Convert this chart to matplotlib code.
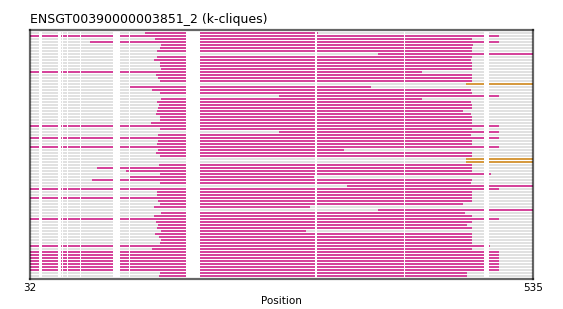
import matplotlib
matplotlib.use("Agg")
import matplotlib.pyplot as plt

# ---- data (positions in alignment coordinates) ----
title = "ENSGT00390000003851_2 (k-cliques)"
x_min, x_max = 32, 535
tick_values = [32, 535]

# magenta (k-clique) segment per row: start, end (None = no segment)
mag_start = [147, 32, 157, 92, 163, 162, 159, 380, 159, 156,
             162, 162, 163, 32, 158, 160, 162, None, 132, 154,
             162, 281, 163, 159, 161, 160, 159, 158, 162, 162,
             153, 32, 162, 281, 160, 32, 160, 159, 32, 160,
             158, 162, None, None, 161, 99, 128, 162, 132, 94,
             162, 349, 32, 159, 159, 32, 160, 162, 156, 380,
             163, 156, 32, 158, 160, 159, 163, 157, 161, 163,
             162, 32, 154, 32, 32, 32, 32, 32, 32, 32,
             162, 161]
mag_end = [320, 501, 474, 501, 475, 474, 474, 535, 474, 473,
           474, 474, 474, 424, 474, 474, 474, None, 373, 473,
           474, 501, 424, 473, 474, 474, 465, 473, 474, 474,
           474, 501, 474, 501, 473, 501, 474, 474, 501, 346,
           474, 474, None, None, 474, 474, 474, 493, 316, 474,
           473, 535, 501, 474, 474, 474, 474, 465, 312, 535,
           467, 474, 501, 474, 469, 474, 308, 474, 474, 474,
           474, 492, 474, 501, 501, 501, 501, 501, 501, 501,
           469, 469]

# orange segments: row index, start, end
orange_rows = [17, 42, 43]
orange_start = [468, 468, 468]
orange_end = [535, 535, 535]

# alignment gap columns (white)
gaps = [(41.5, 44.5), (60, 63), (64, 65), (69, 70), (82.5, 83.5),
        (115, 122), (131, 132), (188, 202), (317, 319), (406, 407),
        (486, 491)]

GRAY = "#e1e1e1"
MAGENTA = "#d5449b"
ORANGE = "#d69a40"


def cut(a, b):
    segs = []
    cur = a
    for g0, g1 in gaps:
        if g1 <= cur or g0 >= b:
            continue
        if g0 > cur:
            segs.append((cur, g0 - cur))
        cur = max(cur, g1)
    if cur < b:
        segs.append((cur, b - cur))
    return segs


fig = plt.figure(figsize=(5.63, 3.09), dpi=100)
ax = fig.add_axes([30 / 563, 1 - 279 / 309, 503 / 563, 249 / 309])

n = len(mag_start)
h = 0.68
for i in range(n):
    ax.broken_barh(cut(x_min, x_max), (i - h / 2, h), facecolors=GRAY,
                   edgecolor="none", zorder=1)
    if mag_start[i] is not None:
        ax.broken_barh(cut(mag_start[i], mag_end[i]), (i - h / 2, h),
                       facecolors=MAGENTA, edgecolor="none", zorder=2)

for r, s, e in zip(orange_rows, orange_start, orange_end):
    ax.broken_barh(cut(s, e), (r - h / 2, h), facecolors=ORANGE,
                   edgecolor="none", zorder=2)

ax.set_xlim(x_min, x_max)
ax.set_ylim(n + 0.1, -0.9)
ax.set_yticks([])
ax.set_xticks(tick_values)
ax.set_xticklabels([str(v) for v in tick_values], fontsize=7.5)
ax.tick_params(axis="x", length=0, pad=3)
for sp in ax.spines.values():
    sp.set_color((0, 0, 0, 0.6))
    sp.set_linewidth(1.6)
    sp.set_zorder(5)
ax.set_xlabel("Position", fontsize=7.5, labelpad=2)
ax.set_title(title, loc="left", fontsize=9, pad=5)

fig.savefig("out.png", dpi=100)
